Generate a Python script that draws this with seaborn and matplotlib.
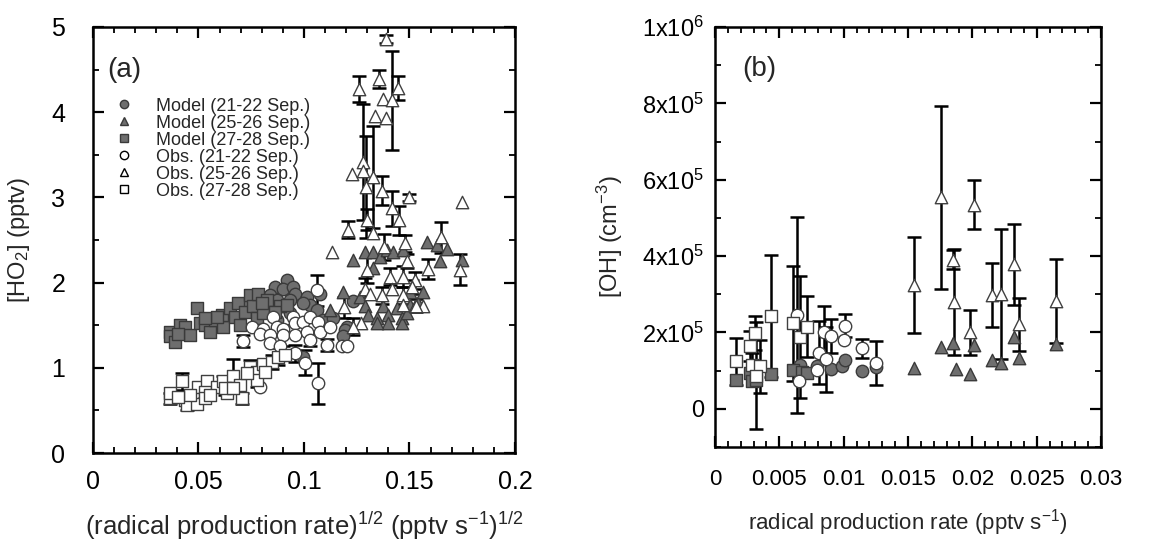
import numpy as np
import pandas as pd
import matplotlib
matplotlib.use("Agg")
import matplotlib.pyplot as plt
from matplotlib.lines import Line2D
from matplotlib.ticker import MultipleLocator
import seaborn as sns

# === Panel (a): HO2 vs sqrt(radical production rate) ===
# Model (21-22 Sep.)
a_mod1_x = [0.0863, 0.0918, 0.0902, 0.0949, 0.0957, 0.0839, 0.087, 0.0934, 0.0807, 0.0902,
            0.1013, 0.1028, 0.1060, 0.0997, 0.1076, 0.1092, 0.1139, 0.1202, 0.1194, 0.1186,
            0.1234, 0.0997, 0.0776, 0.0839, 0.0934, 0.0728, 0.087]
a_mod1_y = [1.95, 2.03, 1.93, 1.95, 1.87, 1.85, 1.80, 1.80, 1.76, 1.72,
            1.83, 1.74, 1.68, 1.76, 1.87, 1.56, 1.58, 1.48, 1.44, 1.37,
            1.78, 1.13, 1.66, 1.64, 1.64, 1.72, 1.56]
# Model (25-26 Sep.)
a_mod2_x = [0.1231, 0.1289, 0.1329, 0.136, 0.1392, 0.1423, 0.147, 0.1581, 0.1629, 0.1676,
            0.1645, 0.1747, 0.1329, 0.1186, 0.1123, 0.1265, 0.1289, 0.1305, 0.1344, 0.1376,
            0.14, 0.14, 0.1439, 0.1463, 0.1463, 0.1502, 0.1542, 0.1565, 0.1502, 0.1344,
            0.1486, 0.1526]
a_mod2_y = [2.27, 2.36, 2.36, 2.30, 2.38, 2.36, 2.38, 2.48, 2.44, 2.40,
            2.25, 2.27, 2.17, 1.89, 1.68, 1.83, 1.72, 1.62, 1.58, 1.72,
            1.62, 1.52, 1.70, 1.58, 1.52, 1.74, 1.76, 1.89, 1.89, 1.52,
            1.64, 1.72]
# Model (27-28 Sep.)
a_mod3_x = [0.0365, 0.0365, 0.0389, 0.0412, 0.0436, 0.046, 0.0491, 0.0507, 0.0531, 0.0555,
            0.0578, 0.0617, 0.061, 0.0649, 0.0673, 0.0697, 0.0689, 0.072, 0.0744, 0.076,
            0.0784, 0.0776, 0.0807, 0.0823, 0.0886, 0.0863, 0.0918, 0.08, 0.0586, 0.0531,
            0.0404]
a_mod3_y = [1.42, 1.37, 1.30, 1.50, 1.48, 1.38, 1.70, 1.52, 1.50, 1.42,
            1.56, 1.48, 1.62, 1.70, 1.60, 1.50, 1.76, 1.66, 1.85, 1.72,
            1.87, 1.58, 1.64, 1.80, 1.72, 1.66, 1.74, 1.76, 1.60, 1.58,
            1.40]
# Obs. (21-22 Sep.)
a_obs1_x = [0.106, 0.0855, 0.0949, 0.0752, 0.0807, 0.0871, 0.0902, 0.0957, 0.0997, 0.1028,
            0.1068, 0.0791, 0.0839, 0.0902, 0.0957, 0.1013, 0.1076, 0.1123, 0.0839, 0.0886,
            0.0712, 0.1028, 0.1107, 0.1179, 0.1202, 0.0957, 0.1005, 0.1068, 0.0791]
a_obs1_y = [1.91, 1.60, 1.60, 1.48, 1.46, 1.48, 1.46, 1.52, 1.54, 1.60,
            1.54, 1.40, 1.38, 1.38, 1.38, 1.42, 1.42, 1.48, 1.29, 1.26,
            1.31, 1.33, 1.27, 1.25, 1.25, 1.17, 1.06, 0.82, 0.78]
a_obs1_e = [0.18, 0, 0, 0, 0, 0, 0, 0, 0, 0,
            0, 0, 0, 0.12, 0, 0, 0, 0, 0, 0,
            0.07, 0.08, 0.07, 0, 0, 0.1, 0.15, 0.24, 0]
# Obs. (25-26 Sep.)
a_obs2_x = [0.1387, 0.126, 0.1357, 0.1447, 0.1376, 0.1419, 0.1336, 0.1387, 0.1278, 0.1229,
            0.1278, 0.1329, 0.1292, 0.1368, 0.1498, 0.1419, 0.1747, 0.130, 0.1452, 0.121,
            0.1329, 0.1648, 0.1131, 0.1379, 0.1479, 0.149, 0.130, 0.1589, 0.174, 0.1408,
            0.1526, 0.147, 0.1289, 0.1416, 0.147, 0.151, 0.1368, 0.1313, 0.1565, 0.153,
            0.119, 0.1269, 0.1234, 0.147]
a_obs2_y = [4.86, 4.27, 4.39, 4.28, 4.15, 4.14, 3.95, 3.93, 3.42, 3.27,
            3.31, 3.24, 3.12, 3.08, 3.00, 2.87, 2.95, 2.74, 2.73, 2.62,
            2.58, 2.53, 2.36, 2.42, 2.46, 2.25, 2.15, 2.16, 2.15, 2.07,
            2.03, 2.07, 1.93, 1.93, 1.85, 1.95, 1.85, 1.87, 1.73, 1.73,
            1.71, 1.53, 1.48, 1.74]
a_obs2_e = [0.05, 0.15, 0.11, 0.14, 0, 0.58, 0, 0, 0.68, 0,
            0, 0.6, 0.6, 0.17, 0.04, 0.2, 0, 0.12, 0.17, 0.1,
            0, 0.18, 0, 0.15, 0.1, 0.08, 0.15, 0.12, 0.18, 0.1,
            0.1, 0.12, 0.12, 0, 0.1, 0.08, 0.1, 0, 0, 0.08,
            0.12, 0, 0.1, 0]
# Obs. (27-28 Sep.)
a_obs3_x = [0.0365, 0.0365, 0.042, 0.0436, 0.0444, 0.0491, 0.0499, 0.0539, 0.0531, 0.0531,
            0.0586, 0.0617, 0.0633, 0.0665, 0.0697, 0.0705, 0.0744, 0.0776, 0.0776, 0.0807,
            0.0847, 0.0878, 0.091, 0.0815, 0.046, 0.0404, 0.0626, 0.0728, 0.0665, 0.0555]
a_obs3_y = [0.64, 0.70, 0.84, 0.62, 0.56, 0.58, 0.78, 0.84, 0.72, 0.64,
            0.78, 0.84, 0.70, 0.90, 0.80, 0.64, 1.01, 0.95, 0.86, 1.05,
            1.07, 1.13, 1.15, 0.95, 0.68, 0.66, 0.76, 0.94, 0.76, 0.68]
a_obs3_e = [0.06, 0, 0.1, 0, 0.06, 0, 0, 0, 0.08, 0,
            0, 0.06, 0, 0.2, 0, 0.07, 0.08, 0, 0.08, 0,
            0.08, 0.1, 0, 0, 0, 0, 0.08, 0, 0, 0]

# === Panel (b): OH vs radical production rate ===
b_mod1_x = [0.00657, 0.0079, 0.009, 0.0099, 0.0101, 0.0114, 0.0125]
b_mod1_y = [1.15e5, 1.11e5, 1.04e5, 1.13e5, 1.27e5, 0.98e5, 1.09e5]
b_mod2_x = [0.01545, 0.0176, 0.0185, 0.0187, 0.0198, 0.0201, 0.0215, 0.0222, 0.02325, 0.02364, 0.0265]
b_mod2_y = [1.08e5, 1.61e5, 1.72e5, 1.04e5, 0.92e5, 1.67e5, 1.28e5, 1.20e5, 1.88e5, 1.33e5, 1.69e5]
b_mod3_x = [0.0016, 0.0027, 0.0029, 0.0032, 0.00436, 0.0061, 0.0068, 0.00715]
b_mod3_y = [0.75e5, 0.94e5, 0.72e5, 0.76e5, 0.91e5, 1.02e5, 0.96e5, 0.94e5]
b_obs1_x = [0.0064, 0.0065, 0.00805, 0.0085, 0.0086, 0.009, 0.0079, 0.01, 0.0101, 0.0114, 0.0125]
b_obs1_y = [2.46e5, 0.72e5, 1.47e5, 2.0e5, 1.30e5, 1.91e5, 1.02e5, 1.79e5, 2.18e5, 1.59e5, 1.20e5]
b_obs1_e = [2.57e5, 0, 0.82e5, 0.7e5, 0.85e5, 0.45e5, 0, 0, 0.3e5, 0.25e5, 0.57e5]
b_obs2_x = [0.01545, 0.01753, 0.0201, 0.0185, 0.0186, 0.0198, 0.0215, 0.0222, 0.02325, 0.02364, 0.0265]
b_obs2_y = [3.24e5, 5.54e5, 5.35e5, 3.9e5, 2.8e5, 2.0e5, 2.98e5, 3.0e5, 3.78e5, 2.21e5, 2.82e5]
b_obs2_e = [1.26e5, 2.4e5, 0.63e5, 0.25e5, 1.38e5, 0.58e5, 0.85e5, 1.7e5, 1.05e5, 0.7e5, 1.1e5]
b_obs3_x = [0.0016, 0.0027, 0.0031, 0.0029, 0.0035, 0.0032, 0.00436, 0.0061, 0.00657, 0.00715]
b_obs3_y = [1.24e5, 1.65e5, 1.98e5, 1.15e5, 1.11e5, 0.87e5, 2.43e5, 2.24e5, 1.89e5, 2.15e5]
b_obs3_e = [0.61e5, 0.4e5, 0.45e5, 0.3e5, 0.7e5, 1.4e5, 1.6e5, 1.5e5, 1.6e5, 0.8e5]

legend_labels = ["Model (21-22 Sep.)", "Model (25-26 Sep.)", "Model (27-28 Sep.)",
                 "Obs. (21-22 Sep.)", "Obs. (25-26 Sep.)", "Obs. (27-28 Sep.)"]

sns.set_style("ticks")
plt.rcParams['font.family'] = ['Liberation Sans', 'DejaVu Sans']
plt.rcParams['mathtext.fontset'] = 'custom'
plt.rcParams['mathtext.rm'] = 'Liberation Sans'
plt.rcParams['mathtext.it'] = 'Liberation Sans:italic'
plt.rcParams['axes.axisbelow'] = False
plt.rcParams['axes.unicode_minus'] = False

GREY = '#6e6e6e'
EDGE_M = '#3a3a3a'
EDGE_O = '#404040'
MS = 80

fig = plt.figure(figsize=(11.75, 5.45), dpi=100)
ax1 = fig.add_axes([0.0791, 0.1688, 0.3592, 0.7817])
ax2 = fig.add_axes([0.6085, 0.1798, 0.3285, 0.7707])


def errs(ax, x, y, e):
    x, y, e = np.array(x), np.array(y), np.array(e)
    m = e > 0
    ax.errorbar(x[m], y[m], yerr=e[m], fmt='none', ecolor='black',
                elinewidth=1.8, capsize=5, capthick=1.8, zorder=2)


def scat(ax, x, y, marker, filled):
    df = pd.DataFrame({'x': x, 'y': y})
    sns.scatterplot(data=df, x='x', y='y', ax=ax, marker=marker, s=MS,
                    color=GREY if filled else 'white',
                    edgecolor=EDGE_M if filled else EDGE_O,
                    linewidth=1.0, zorder=3 if filled else 4, legend=False)


for ax, d in [
    (ax1, dict(m=[(a_mod1_x, a_mod1_y), (a_mod2_x, a_mod2_y), (a_mod3_x, a_mod3_y)],
               o=[(a_obs1_x, a_obs1_y, a_obs1_e), (a_obs2_x, a_obs2_y, a_obs2_e), (a_obs3_x, a_obs3_y, a_obs3_e)])),
    (ax2, dict(m=[(b_mod1_x, b_mod1_y), (b_mod2_x, b_mod2_y), (b_mod3_x, b_mod3_y)],
               o=[(b_obs1_x, b_obs1_y, b_obs1_e), (b_obs2_x, b_obs2_y, b_obs2_e), (b_obs3_x, b_obs3_y, b_obs3_e)])),
]:
    for (x, y), mk in zip(d['m'], ['o', '^', 's']):
        scat(ax, x, y, mk, True)
    for (x, y, e), mk in zip(d['o'], ['o', '^', 's']):
        errs(ax, x, y, e)
        scat(ax, x, y, mk, False)

ax1.set_xlim(0, 0.2)
ax1.set_ylim(0, 5)
ax1.set_xticks([0, 0.05, 0.1, 0.15, 0.2])
ax1.set_xticklabels(['0', '0.05', '0.1', '0.15', '0.2'])
ax1.xaxis.set_minor_locator(MultipleLocator(0.01))
ax1.set_yticks([0, 1, 2, 3, 4, 5])
ax1.yaxis.set_minor_locator(MultipleLocator(0.5))
ax1.set_xlabel(r'(radical production rate)$^{1/2}$ (pptv s$^{-1}$)$^{1/2}$', fontsize=18.5, labelpad=12)
ax1.set_ylabel(r'[HO$_2$] (pptv)', fontsize=17, labelpad=14)
ax1.text(0.035, 0.93, '(a)', transform=ax1.transAxes, fontsize=20, va='top')

handles = [
    Line2D([], [], ls='', marker='o', ms=6, mfc=GREY, mec=EDGE_M),
    Line2D([], [], ls='', marker='^', ms=6, mfc=GREY, mec=EDGE_M),
    Line2D([], [], ls='', marker='s', ms=6, mfc=GREY, mec=EDGE_M),
    Line2D([], [], ls='', marker='o', ms=6, mfc='white', mec='black'),
    Line2D([], [], ls='', marker='^', ms=6, mfc='white', mec='black'),
    Line2D([], [], ls='', marker='s', ms=6, mfc='white', mec='black'),
]
ax1.legend(handles, legend_labels, loc='upper left', bbox_to_anchor=(0.03, 0.855),
           frameon=False, fontsize=13, handletextpad=1.3, labelspacing=0.0,
           borderpad=0, handlelength=1.0)

ax2.set_xlim(0, 0.03)
ax2.set_ylim(-1e5, 1e6)
ax2.set_xticks([0, 0.005, 0.01, 0.015, 0.02, 0.025, 0.03])
ax2.set_xticklabels(['0', '0.005', '0.01', '0.015', '0.02', '0.025', '0.03'])
ax2.xaxis.set_minor_locator(MultipleLocator(0.001))
ax2.set_yticks([0, 2e5, 4e5, 6e5, 8e5, 1e6])
ax2.set_yticklabels(['0', r'2x10$^5$', r'4x10$^5$', r'6x10$^5$', r'8x10$^5$', r'1x10$^6$'])
ax2.yaxis.set_minor_locator(MultipleLocator(1e5))
ax2.set_xlabel(r'radical production rate (pptv s$^{-1}$)', fontsize=16, labelpad=12)
ax2.set_ylabel(r'[OH] (cm$^{-3}$)', fontsize=17, labelpad=12)
ax2.text(0.07, 0.93, '(b)', transform=ax2.transAxes, fontsize=20, va='top')

# axes styling: closed box, inward ticks on all sides
for ax in (ax1, ax2):
    for sp in ax.spines.values():
        sp.set_visible(True)
        sp.set_linewidth(1.8)
        sp.set_color('black')
    ax.tick_params(which='both', direction='in', top=True, right=True,
                   bottom=True, left=True, color='black', labelsize=17,
                   labelcolor='black')
    ax.tick_params(which='major', length=8, width=1.6)
    ax.tick_params(which='minor', length=4, width=1.3)
ax1.tick_params(axis='x', which='both', pad=12, labelsize=18)
ax1.tick_params(axis='y', which='both', pad=20, labelsize=18)
ax2.tick_params(axis='x', which='both', pad=16, labelsize=16)
ax2.tick_params(axis='y', which='both', pad=8)

fig.savefig('out.png', dpi=100)
